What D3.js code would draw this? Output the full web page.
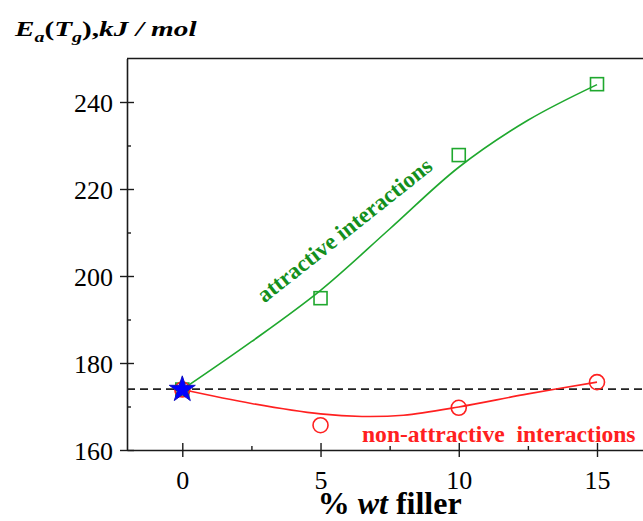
<!DOCTYPE html>
<html><head><meta charset="utf-8">
<script src="https://cdn.jsdelivr.net/npm/d3@7"></script>
<style>
html,body{margin:0;padding:0;background:#fff;}
svg{display:block;}
</style></head>
<body>
<script>
// ---- data ----
const xTicks = [0, 5, 10, 15];
const xMinor = [2.5, 7.5, 12.5];
const yTicks = [160, 180, 200, 220, 240];
const yMinor = [170, 190, 210, 230];
const fillerX = [0, 5, 10, 15];
const attractive = [173.9, 194.9, 227.8, 244.1];
const nonAttractive = [173.9, 165.7, 169.7, 175.6];
const attractiveFitX = [0, 2.5, 5, 7.5, 10, 12.5, 15];
const attractiveFitY = [173.9, 184.9, 196.7, 210.8, 225.0, 235.8, 244.0];
const nonAttrFitX = [0, 2.5, 5, 6.5, 8, 10, 12.5, 15];
const nonAttrFitY = [173.9, 170.7, 168.3, 167.7, 168.0, 169.9, 172.9, 175.6];
const referenceLevel = 174.0;
const neatPoint = [0, 173.9];

const W = 643, H = 521;
const FONT = '"Liberation Serif", serif';
const BASE = 23; // rendered font size; larger sizes obtained by scaling
const svg = d3.select("body").append("svg").attr("width", W).attr("height", H)
  .style("font-family", FONT);

const x = d3.scaleLinear().domain([-2, 17]).range([127, 127 + 19 * 27.647]);
const y = d3.scaleLinear().domain([160, 250]).range([450, 58.5]);

const axisColor = "#1a1a1a";
const green = "#1fa82e", greenText = "#138f1c", red = "#ff2020";

// frame: top line
svg.append("line").attr("x1", x(-2)).attr("x2", x(17)).attr("y1", y(250)).attr("y2", y(250))
  .attr("stroke", axisColor).attr("stroke-width", 1.6);

function extraTicks(g){
  g.select(".domain").remove();
  g.selectAll("line").attr("stroke", axisColor).attr("stroke-width", 1.4);
}
const tickScale = 26 / BASE;

function tickText(g, tf){
  g.attr("font-family", null).attr("font-size", null).attr("fill", null);
  g.select(".domain").attr("stroke", axisColor).attr("stroke-width", 1.6);
  g.selectAll(".tick line").attr("stroke", axisColor).attr("stroke-width", 1.4);
  g.selectAll(".tick text").remove();
  g.selectAll(".tick").append("text")
    .attr("transform", tf).attr("font-size", BASE).attr("fill", "black")
    .style("font-family", FONT)
    .text(d => d3.format("d")(d));
}

// x axis
const gx = svg.append("g").attr("transform", `translate(0,${y(160)})`)
  .call(d3.axisBottom(x).tickValues(xTicks).tickSize(7).tickSizeOuter(0));
tickText(gx, `translate(0,39) scale(${tickScale})`);
gx.selectAll(".tick text").attr("text-anchor", "middle");
svg.append("g").attr("transform", `translate(0,${y(160)})`)
  .call(d3.axisBottom(x).tickValues(xTicks).tickSize(-7).tickFormat("").tickSizeOuter(0)).call(extraTicks);
svg.append("g").attr("transform", `translate(0,${y(160)})`)
  .call(d3.axisBottom(x).tickValues(xMinor).tickSize(-4).tickFormat("").tickSizeOuter(0)).call(extraTicks);

// y axis
const gy = svg.append("g").attr("transform", `translate(${x(-2)},0)`)
  .call(d3.axisLeft(y).tickValues(yTicks).tickSize(7).tickSizeOuter(0));
tickText(gy, `translate(-14,9) scale(${tickScale})`);
gy.selectAll(".tick text").attr("text-anchor", "end");
svg.append("g").attr("transform", `translate(${x(-2)},0)`)
  .call(d3.axisLeft(y).tickValues(yTicks).tickSize(-7).tickFormat("").tickSizeOuter(0)).call(extraTicks);
svg.append("g").attr("transform", `translate(${x(-2)},0)`)
  .call(d3.axisLeft(y).tickValues(yMinor).tickSize(-4).tickFormat("").tickSizeOuter(0)).call(extraTicks);

// dashed reference line
svg.append("line").attr("x1", x(-2)).attr("x2", x(17)).attr("y1", y(referenceLevel)).attr("y2", y(referenceLevel))
  .attr("stroke", "#222").attr("stroke-width", 1.6).attr("stroke-dasharray", "8,5");

// fit curves
const line = d3.line().x(d => x(d[0])).y(d => y(d[1])).curve(d3.curveCatmullRom.alpha(0.5));
svg.append("path").datum(attractiveFitX.map((v, i) => [v, attractiveFitY[i]]))
  .attr("d", line).attr("fill", "none").attr("stroke", green).attr("stroke-width", 1.6);
svg.append("path").datum(nonAttrFitX.map((v, i) => [v, nonAttrFitY[i]]))
  .attr("d", line).attr("fill", "none").attr("stroke", red).attr("stroke-width", 1.6);

// markers
svg.selectAll(".sq").data(fillerX.map((v, i) => [v, attractive[i]])).enter().append("rect")
  .attr("x", d => x(d[0]) - 6.5).attr("y", d => y(d[1]) - 6.5).attr("width", 13).attr("height", 13)
  .attr("fill", "none").attr("stroke", green).attr("stroke-width", 1.6);
svg.selectAll(".ci").data(fillerX.map((v, i) => [v, nonAttractive[i]])).enter().append("circle")
  .attr("cx", d => x(d[0])).attr("cy", d => y(d[1])).attr("r", 7.5)
  .attr("fill", "none").attr("stroke", red).attr("stroke-width", 1.6);

// star
svg.append("path").attr("d", d3.symbol(d3.symbolStar, 210)())
  .attr("transform", `translate(${x(neatPoint[0])},${y(neatPoint[1])})`)
  .attr("fill", "#0000ff").attr("stroke", "#1010c0").attr("stroke-width", 1);

// annotations
svg.append("text").attr("transform", `translate(346,232) rotate(-38.5)`)
  .attr("text-anchor", "middle").attr("dominant-baseline", "middle")
  .attr("font-size", 23).attr("font-weight", "bold").attr("fill", greenText)
  .style("font-family", FONT)
  .text("attractive interactions");
svg.append("text").attr("transform", "translate(362,442) scale(1.025)").attr("font-size", 23)
  .attr("font-weight", "bold").attr("fill", red).style("font-family", FONT).style("white-space", "pre")
  .text("non-attractive  interactions");

// x title
const xt = svg.append("text").attr("transform", `translate(${x(7.5)},514) scale(${32 / BASE})`)
  .attr("text-anchor", "middle")
  .attr("font-size", BASE).attr("font-weight", "bold").attr("fill", "black")
  .style("font-family", FONT).style("white-space", "pre");
xt.append("tspan").text("% ");
xt.append("tspan").attr("font-style", "italic").text("wt");
xt.append("tspan").text(" filler");

// y title (horizontally stretched as in the reference)
const yt = svg.append("text").attr("transform", "translate(15,36) scale(1.33,1)").attr("font-size", 22)
  .attr("font-weight", "bold").attr("font-style", "italic").attr("fill", "black")
  .style("font-family", FONT).style("white-space", "pre");
yt.append("tspan").text("E");
yt.append("tspan").attr("font-size", 15).attr("dy", 6).text("a");
yt.append("tspan").attr("dy", -6).attr("font-style", "normal").text("(");
yt.append("tspan").text("T");
yt.append("tspan").attr("font-size", 15).attr("dy", 6).text("g");
yt.append("tspan").attr("dy", -6).attr("font-style", "normal").text("),");
yt.append("tspan").text("kJ / mol");
</script>
</body></html>
